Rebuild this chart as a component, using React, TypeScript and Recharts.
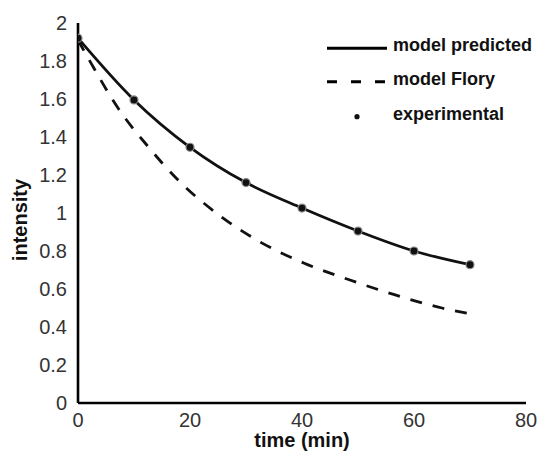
import React from 'react';
import { ComposedChart, Line, Scatter, XAxis, YAxis, Legend } from 'recharts';

// time (min) of the experimental samples and the model predicted curve
const sampleTime = [0, 10, 20, 30, 40, 50, 60, 70];
const experimentalIntensity = [1.92, 1.595, 1.346, 1.16, 1.026, 0.905, 0.8, 0.728];
const predictedIntensity = [1.92, 1.595, 1.346, 1.16, 1.026, 0.905, 0.8, 0.728];

// model Flory curve
const floryTime = [0, 2.3, 7.2, 12.5, 18, 25.6, 32.2, 40.3, 48.3, 56.5, 65, 70];
const floryIntensity = [1.91, 1.79, 1.55, 1.35, 1.17, 0.98, 0.853, 0.737, 0.65, 0.57, 0.5, 0.47];

const xTicks = [0, 20, 40, 60, 80];
const yTicks = [0, 0.2, 0.4, 0.6, 0.8, 1, 1.2, 1.4, 1.6, 1.8, 2];
const legendLabels = ['model predicted', 'model Flory', 'experimental'];
const xTitle = 'time (min)';
const yTitle = 'intensity';

const predictedData = sampleTime.map((t, i) => ({ t, v: predictedIntensity[i] }));
const experimentalData = sampleTime.map((t, i) => ({ t, v: experimentalIntensity[i] }));
const floryData = floryTime.map((t, i) => ({ t, v: floryIntensity[i] }));

const FONT = '"Liberation Sans", Arial, sans-serif';

const LegendContent = () => (
  <svg width={215} height={105} style={{ display: 'block' }}>
    <line x1={1} x2={61} y1={20.3} y2={20.3} stroke="#000" strokeWidth={3} />
    <text x={67} y={23} fontSize={18} fontWeight="bold" fontFamily={FONT} fill="#111">{legendLabels[0]}</text>
    <line x1={1} x2={61} y1={53.7} y2={53.7} stroke="#000" strokeWidth={3} strokeDasharray="10 14" />
    <text x={67} y={57} fontSize={18} fontWeight="bold" fontFamily={FONT} fill="#111">{legendLabels[1]}</text>
    <circle cx={31} cy={88.7} r={2.6} fill="#111" />
    <text x={67} y={92} fontSize={18} fontWeight="bold" fontFamily={FONT} fill="#111">{legendLabels[2]}</text>
  </svg>
);

const Dot = (props: any) => {
  const { cx, cy } = props;
  return <circle cx={cx} cy={cy} r={4} fill="#111" stroke="#8a8a8a" strokeWidth={1.2} />;
};

export default function App() {
  return (
    <div style={{ position: 'absolute', left: 0, top: 0, width: 541, height: 452, background: '#fff', fontFamily: FONT }}>
      <ComposedChart width={541} height={452} margin={{ top: 23, right: 15, bottom: 0, left: 0 }}>
        <XAxis
          type="number"
          dataKey="t"
          domain={[0, 80]}
          ticks={xTicks}
          height={49}
          tickLine={false}
          tickSize={0}
          tickMargin={10}
          axisLine={{ stroke: '#000', strokeWidth: 2.6 }}
          tick={{ fill: '#333', fontSize: 20, fontFamily: FONT }}
          allowDataOverflow
          label={{
            content: (p: any) => {
              const vb = p.viewBox;
              return (
                <text x={vb.x + vb.width / 2} y={vb.y + 44} textAnchor="middle" fontSize={20} fontWeight="bold" fontFamily={FONT} fill="#111">
                  {xTitle}
                </text>
              );
            },
          }}
        />
        <YAxis
          type="number"
          dataKey="v"
          domain={[0, 2]}
          ticks={yTicks}
          width={78}
          tickLine={false}
          tickSize={0}
          tickMargin={11}
          axisLine={{ stroke: '#000', strokeWidth: 2.6 }}
          tick={{ fill: '#333', fontSize: 20, fontFamily: FONT }}
          allowDataOverflow
          label={{
            content: (p: any) => {
              const vb = p.viewBox;
              const x = vb.x + 27;
              const y = vb.y + vb.height / 2 + 7;
              return (
                <text x={x} y={y} transform={`rotate(-90, ${x}, ${y})`} textAnchor="middle" fontSize={20} fontWeight="bold" fontFamily={FONT} fill="#111">
                  {yTitle}
                </text>
              );
            },
          }}
        />
        <Legend
          layout="vertical"
          verticalAlign="middle"
          align="center"
          content={() => <LegendContent />}
          wrapperStyle={{ left: 326, top: 28, width: 215, height: 105 }}
        />
        <Line
          data={floryData}
          dataKey="v"
          type="monotone"
          stroke="#111"
          strokeWidth={2.8}
          strokeDasharray="12 11"
          dot={false}
          activeDot={false}
          isAnimationActive={false}
          name={legendLabels[1]}
        />
        <Line
          data={predictedData}
          dataKey="v"
          type="monotone"
          stroke="#111"
          strokeWidth={2.8}
          dot={false}
          activeDot={false}
          isAnimationActive={false}
          name={legendLabels[0]}
        />
        <Scatter
          data={experimentalData}
          dataKey="v"
          shape={Dot}
          isAnimationActive={false}
          name={legendLabels[2]}
        />
      </ComposedChart>
    </div>
  );
}
